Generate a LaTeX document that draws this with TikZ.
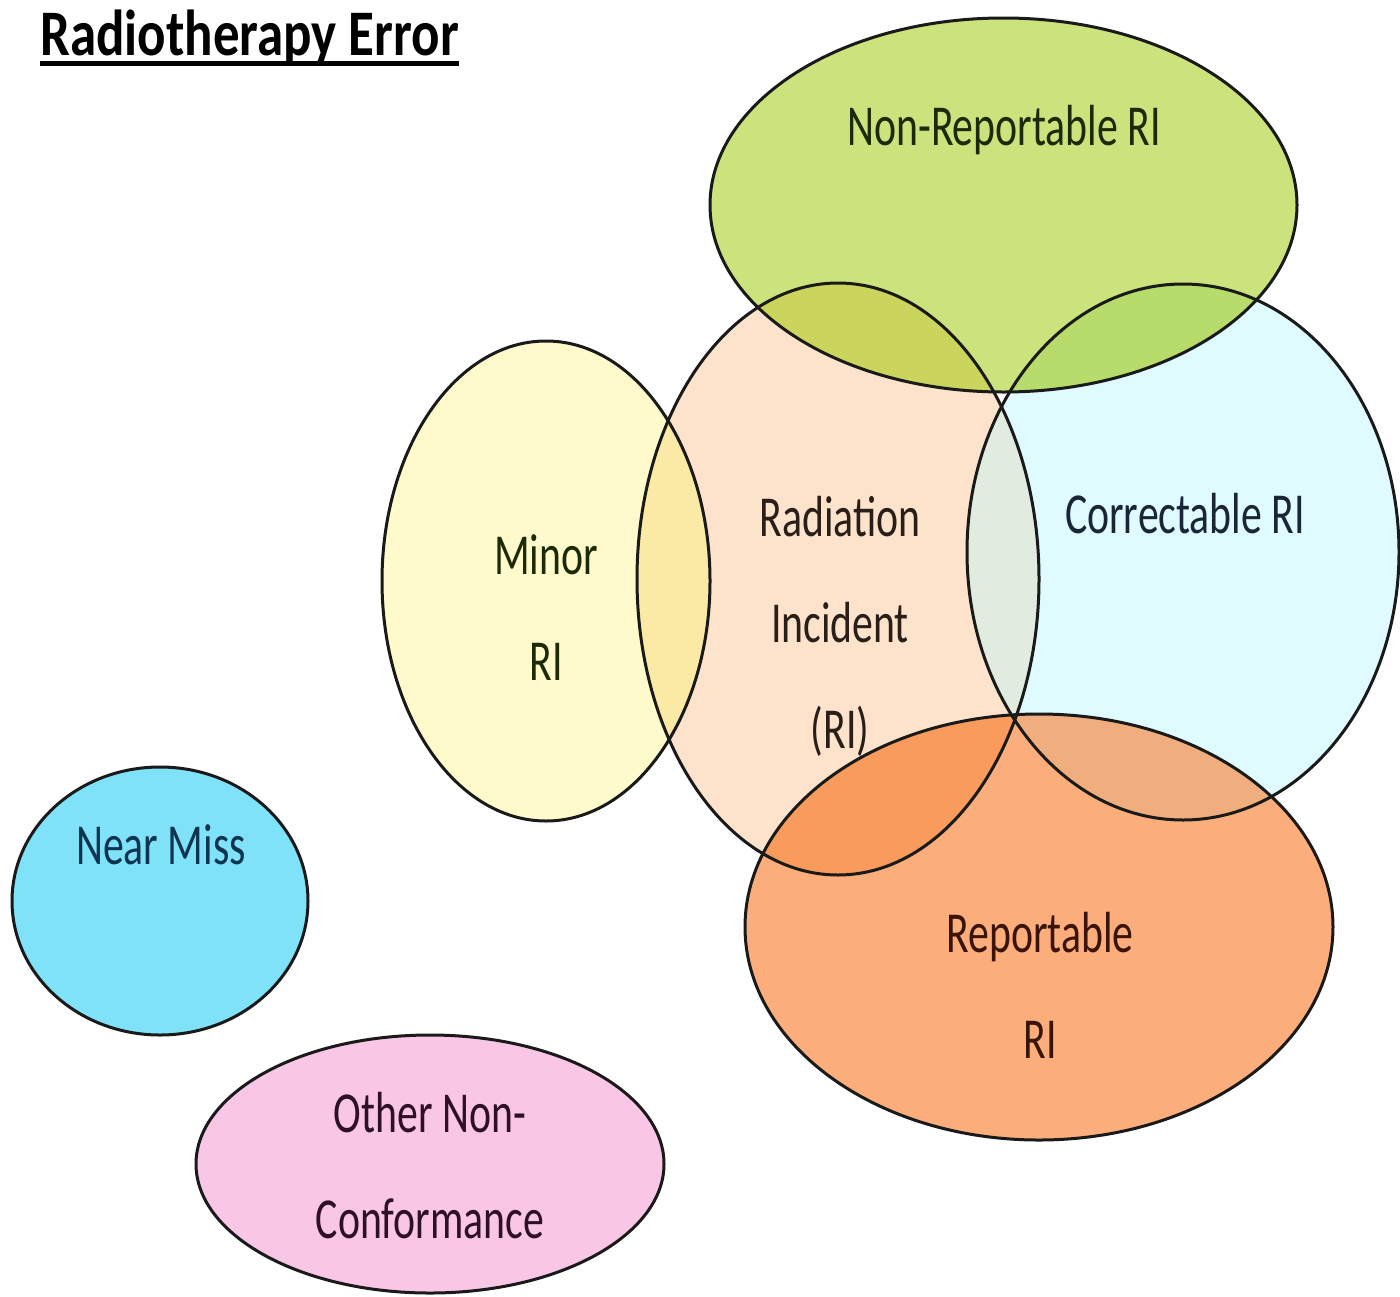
\documentclass[tikz,border=0pt]{standalone}
\usepackage{fontspec}
\setmainfont{Carlito}
\newfontfamily\lblfont[FakeStretch=0.72]{Carlito}
\newfontfamily\ttlfont[FakeStretch=0.815]{Carlito}
\definecolor{cGreen}{HTML}{CCE27C}
\definecolor{cPeach}{HTML}{FDE3CC}
\definecolor{cYellow}{HTML}{FEFACB}
\definecolor{cCyan}{HTML}{DFFBFF}
\definecolor{cOrange}{HTML}{FBAE7B}
\definecolor{cBlue}{HTML}{80E2F9}
\definecolor{cPink}{HTML}{F9C6E6}
\definecolor{oYP}{HTML}{FBEAA5}
\definecolor{oGP}{HTML}{CBD45C}
\definecolor{oGC}{HTML}{B8DC6C}
\definecolor{oPC}{HTML}{E2EBE0}
\definecolor{oPO}{HTML}{F89B5C}
\definecolor{oCO}{HTML}{F0AE7E}
\definecolor{outc}{HTML}{1A1A1A}
\definecolor{tGreen}{HTML}{1C2A08}
\definecolor{tBrown}{HTML}{2A1E18}
\definecolor{tRed}{HTML}{3A1408}
\definecolor{tNavy}{HTML}{0E3550}
\definecolor{tSlate}{HTML}{1A2638}
\definecolor{tPlum}{HTML}{2E1028}
\tikzset{
  outl/.style={draw=outc, line width=3pt},
  lbl/.style={font=\lblfont\fontsize{58}{106}\selectfont, align=center, anchor=base, inner sep=0pt},
}
\def\eNR{(cNR) ellipse [x radius=293.5, y radius=187]}
\def\eRI{(cRI) ellipse [x radius=201, y radius=296]}
\def\eMI{(cMI) ellipse [x radius=164, y radius=240]}
\def\eCO{(cCO) ellipse [x radius=216, y radius=268]}
\def\eRE{(cRE) ellipse [x radius=294, y radius=213]}
\def\eNM{(cNM) ellipse [x radius=148, y radius=134]}
\def\eOT{(cOT) ellipse [x radius=234, y radius=129]}
\begin{document}
\begin{tikzpicture}[x=1pt,y=-1pt]
\fill[white] (0,0) rectangle (1400,1296);
\useasboundingbox (0,0) rectangle (1400,1296);
\coordinate (cNR) at (1003.5,205);
\coordinate (cRI) at (838,579);
\coordinate (cMI) at (546,581);
\coordinate (cCO) at (1183,552);
\coordinate (cRE) at (1039,927);
\coordinate (cNM) at (160,901);
\coordinate (cOT) at (430,1164);
% base fills
\fill[cPeach] \eRI;
\fill[cYellow] \eMI;
\fill[cCyan] \eCO;
\fill[cGreen] \eNR;
\fill[cOrange] \eRE;
\fill[cBlue] \eNM;
\fill[cPink] \eOT;
% overlaps
\begin{scope}\clip \eRI; \fill[oYP] \eMI; \end{scope}
\begin{scope}\clip \eRI; \fill[oPC] \eCO; \end{scope}
\begin{scope}\clip \eNR; \fill[oGP] \eRI; \end{scope}
\begin{scope}\clip \eNR; \fill[oGC] \eCO; \end{scope}
\begin{scope}\clip \eRE; \fill[oCO] \eCO; \end{scope}
\begin{scope}\clip \eRE; \fill[oPO] \eRI; \end{scope}
% outlines
\draw[outl] \eMI;
\draw[outl] \eRI;
\draw[outl] \eCO;
\draw[outl] \eNR;
\draw[outl] \eRE;
\draw[outl] \eNM;
\draw[outl] \eOT;
% labels (anchor base = last line)
\node[lbl, text=tGreen] (tNR) at (1004,145) {Non-Reportable RI};
\node[lbl, text=tBrown] (tRI) at (840,748) {Radiation\\Incident\\(RI)};
\node[lbl, text=tGreen] (tMI) at (546,680) {Minor\\RI};
\node[lbl, text=tSlate] (tCO) at (1185,533) {Correctable RI};
\node[lbl, text=tRed] (tRE) at (1040,1058) {Reportable\\RI};
\node[lbl, text=tNavy] (tNM) at (161,864) {Near Miss};
\node[lbl, text=tPlum] (tOT) at (430,1238) {Other Non-\\Conformance};
% title
\node[font=\ttlfont\bfseries\fontsize{65}{70}\selectfont, anchor=base west, inner sep=0pt, text=black] (title) at (40,55) {Radiotherapy Error};
\draw[line width=5pt, black] ([yshift=-8pt]title.base west) -- ([yshift=-8pt]title.base east);
\end{tikzpicture}
\end{document}
